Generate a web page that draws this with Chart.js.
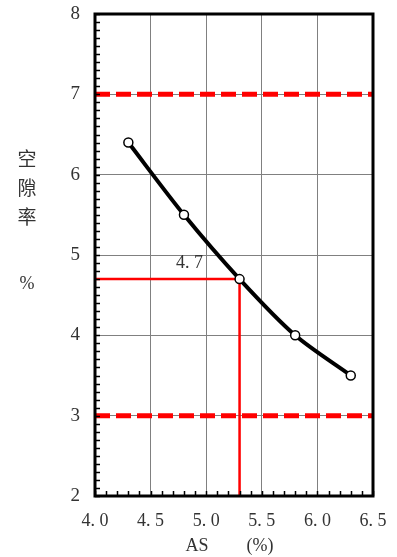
<!DOCTYPE html>
<html>
<head>
<meta charset="utf-8">
<script src="https://cdn.jsdelivr.net/npm/chart.js@4.4.1/dist/chart.umd.min.js"></script>
<style>
  html, body { margin: 0; padding: 0; background: #fff; }
  #wrap { position: relative; width: 397px; height: 557px; }
  .lab { position: absolute; font-size: 19px; color: #333; line-height: 1; transform: translate(-50%, -50%); white-space: nowrap; }
  .cjk { font-family: "Noto Sans CJK SC", sans-serif; }
  .ser { font-family: "Liberation Serif", serif; font-size: 18px; }
</style>
</head>
<body>
<div id="wrap">
  <canvas id="chart" width="397" height="557"></canvas>
  <span class="lab cjk" style="left:27px; top:157px;">空</span>
  <span class="lab cjk" style="left:27px; top:186px;">隙</span>
  <span class="lab cjk" style="left:27px; top:215px;">率</span>
  <span class="lab ser" style="left:27px; top:283px;">%</span>
  <span class="lab ser" style="left:197px; top:545px;">AS</span>
  <span class="lab ser" style="left:260px; top:545px;">(%)</span>
</div>
<script>
// asphalt content (%) vs air voids (%)
const asContent = [4.3, 4.8, 5.3, 5.8, 6.3];
const airVoids = [6.4, 5.5, 4.7, 4.0, 3.5];

// spec limits
const limitX = [4.0, 6.5];
const upperLimit = [7, 7];
const lowerLimit = [3, 3];

// reading line for target voids
const readX = [4.0, 5.3, 5.3];
const readY = [4.7, 4.7, 2.0];
const readValue = 4.7;

const toPoints = (xs, ys) => xs.map((x, i) => ({ x: x, y: ys[i] }));
const isMajor = (v, per) => Math.abs(v * per - Math.round(v * per)) < 1e-6;

const frameAndTicks = {
    id: 'frameAndTicks',
    afterDatasetsDraw(chart) {
        const { ctx, chartArea: a, scales: { x, y } } = chart;
        ctx.save();
        // inner ticks
        ctx.strokeStyle = '#000';
        ctx.lineWidth = 1.5;
        ctx.beginPath();
        x.ticks.forEach(t => {
            const px = Math.round(x.getPixelForValue(t.value)) + 0.5;
            ctx.moveTo(px, a.bottom);
            ctx.lineTo(px, a.bottom - 5);
        });
        y.ticks.forEach(t => {
            const py = Math.round(y.getPixelForValue(t.value)) + 0.5;
            ctx.moveTo(a.left, py);
            ctx.lineTo(a.left + 5, py);
        });
        ctx.stroke();
        // frame
        ctx.lineWidth = 3;
        ctx.strokeRect(a.left, a.top, a.right - a.left, a.bottom - a.top);
        // value label
        ctx.font = '18px "Liberation Serif"';
        ctx.fillStyle = '#333';
        ctx.textAlign = 'center';
        ctx.textBaseline = 'middle';
        ctx.fillText(readValue.toFixed(1).replace('.', '. '),
            x.getPixelForValue(4.85), y.getPixelForValue(readValue + 0.2));
        ctx.restore();
    }
};

const ctx = document.getElementById('chart').getContext('2d');
new Chart(ctx, {
    type: 'scatter',
    data: {
        datasets: [
            {
                label: 'Air voids',
                data: toPoints(asContent, airVoids),
                showLine: true,
                tension: 0.3,
                borderColor: '#000',
                borderWidth: 4,
                pointRadius: 4.5,
                pointBorderWidth: 1.5,
                pointBorderColor: '#000',
                pointBackgroundColor: '#fff',
                order: 0
            },
            {
                label: 'Upper limit',
                data: toPoints(limitX, upperLimit),
                showLine: true,
                borderColor: '#ff0000',
                borderWidth: 5,
                borderDash: [15, 6],
                pointRadius: 0,
                order: 2
            },
            {
                label: 'Lower limit',
                data: toPoints(limitX, lowerLimit),
                showLine: true,
                borderColor: '#ff0000',
                borderWidth: 5,
                borderDash: [15, 6],
                pointRadius: 0,
                order: 2
            },
            {
                label: 'Reading',
                data: toPoints(readX, readY),
                showLine: true,
                borderColor: '#ff0000',
                borderWidth: 2.5,
                pointRadius: 0,
                clip: false,
                order: 1
            }
        ]
    },
    options: {
        responsive: false,
        animation: false,
        layout: { padding: { top: 14, right: 24, left: 0, bottom: 0 } },
        plugins: { legend: { display: false }, tooltip: { enabled: false } },
        scales: {
            x: {
                type: 'linear',
                min: 4.0,
                max: 6.5,
                afterFit: s => { s.height = 61; s.paddingLeft = 0; s.paddingRight = 0; },
                border: { display: false },
                grid: {
                    drawTicks: false,
                    color: c => isMajor(c.tick.value, 2) ? '#808080' : 'rgba(0,0,0,0)',
                    lineWidth: 1
                },
                ticks: {
                    stepSize: 0.1,
                    maxTicksLimit: 100,
                    autoSkip: false,
                    maxRotation: 0,
                    padding: 14,
                    color: '#333',
                    font: { family: 'Liberation Serif', size: 18 },
                    callback: v => isMajor(v, 2) ? v.toFixed(1).replace('.', '. ') : ''
                }
            },
            y: {
                type: 'linear',
                min: 2,
                max: 8,
                afterFit: s => { s.width = 95; s.paddingTop = 0; s.paddingBottom = 0; },
                border: { display: false },
                grid: {
                    drawTicks: false,
                    color: c => isMajor(c.tick.value, 1) ? '#808080' : 'rgba(0,0,0,0)',
                    lineWidth: 1
                },
                ticks: {
                    stepSize: 0.1,
                    maxTicksLimit: 100,
                    autoSkip: false,
                    padding: 15,
                    color: '#333',
                    font: { family: 'Liberation Serif', size: 19 },
                    callback: v => isMajor(v, 1) ? String(Math.round(v)) : ''
                }
            }
        }
    },
    plugins: [frameAndTicks]
});
</script>
</body>
</html>
